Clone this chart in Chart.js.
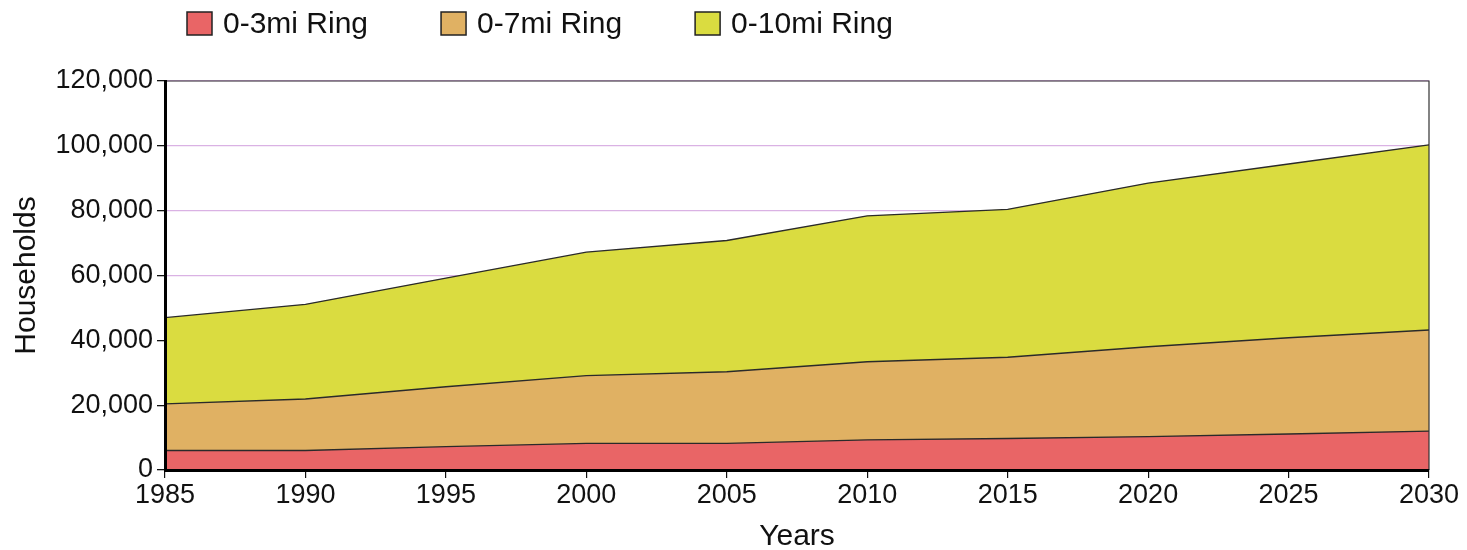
<!DOCTYPE html>
<html>
<head>
<meta charset="utf-8">
<script src="https://cdn.jsdelivr.net/npm/chart.js@4/dist/chart.umd.min.js"></script>
<style>
  html, body { margin: 0; padding: 0; background: #fff; }
  #wrap { width: 1467px; height: 550px; }
</style>
</head>
<body>
<div id="wrap"><canvas id="chart1"></canvas></div>
<script>
'use strict';

// data
var years = ['1985', '1990', '1995', '2000', '2005', '2010', '2015', '2020', '2025', '2030'];
var seriesNames = ['0-3mi Ring', '0-7mi Ring', '0-10mi Ring'];
var ring3 = [6000, 6000, 7200, 8200, 8200, 9300, 9700, 10300, 11100, 12000];
var ring7 = [20400, 21900, 25700, 29100, 30300, 33400, 34800, 38000, 40800, 43200];
var ring10 = [47000, 51100, 59200, 67200, 70800, 78400, 80400, 88500, 94400, 100300];
var yTicks = [0, 20000, 40000, 60000, 80000, 100000, 120000];

var colors = ['#e96566', '#e0b163', '#dadc40'];
var fontName = '"Liberation Sans", Arial, sans-serif';

// legend drawn by hand so it can sit left of centre like the original
var ringLegend = {
  id: 'ringLegend',
  afterDraw: function(chart){
    var ctx = chart.ctx;
    var x = 187;
    ctx.save();
    ctx.font = '30px ' + fontName;
    ctx.textBaseline = 'middle';
    ctx.textAlign = 'left';
    for (var i = 0; i < chart.data.datasets.length; i++) {
      var ds = chart.data.datasets[i];
      ctx.fillStyle = ds.backgroundColor;
      ctx.fillRect(x, 12, 25, 23);
      ctx.lineWidth = 1.5;
      ctx.strokeStyle = '#222';
      ctx.strokeRect(x, 12, 25, 23);
      ctx.fillStyle = '#111';
      ctx.fillText(ds.label, x + 36, 25);
      x += 36 + ctx.measureText(ds.label).width + 73;
    }
    ctx.restore();
  }
};

// thin frame on the top and right of the plot
var plotFrame = {
  id: 'plotFrame',
  afterDatasetsDraw: function(chart){
    var a = chart.chartArea;
    var ctx = chart.ctx;
    ctx.save();
    ctx.strokeStyle = '#333';
    ctx.lineWidth = 1.2;
    ctx.beginPath();
    ctx.moveTo(a.left, a.top);
    ctx.lineTo(a.right, a.top);
    ctx.lineTo(a.right, a.bottom);
    ctx.stroke();
    ctx.restore();
  }
};

function makeSet(i, values){
  return {
    label: seriesNames[i],
    data: values,
    backgroundColor: colors[i],
    borderColor: '#2a2a2a',
    borderWidth: 1.4,
    fill: 'origin',
    pointRadius: 0,
    pointHoverRadius: 0,
    tension: 0
  };
}

new Chart(document.getElementById('chart1').getContext('2d'), {
  type: 'line',
  data: {
    labels: years,
    datasets: [makeSet(0, ring3), makeSet(1, ring7), makeSet(2, ring10)]
  },
  options: {
    responsive: true,
    maintainAspectRatio: false,
    animation: false,
    layout: { padding: { top: 81, right: 38, left: 0, bottom: 0 } },
    plugins: {
      legend: { display: false },
      tooltip: { enabled: false }
    },
    scales: {
      x: {
        type: 'category',
        offset: false,
        grid: { drawOnChartArea: false, drawTicks: true, tickLength: 8, tickColor: '#111', lineWidth: 1.2 },
        border: { display: true, color: '#000', width: 3, z: 1 },
        ticks: { color: '#111', font: { family: fontName, size: 27 }, padding: 1, maxRotation: 0, autoSkip: false },
        title: { display: true, text: 'Years', color: '#111', font: { family: fontName, size: 30, lineHeight: 1 }, padding: { top: 0, bottom: -2 } },
        afterFit: function(scale){ scale.height = 80; }
      },
      y: {
        min: 0,
        max: 120000,
        afterBuildTicks: function(scale){
          scale.ticks = yTicks.map(function(v){ return { value: v }; });
        },
        grid: { color: '#dab2e4', lineWidth: 1.3, drawTicks: true, tickLength: 8, tickColor: '#111' },
        border: { display: true, color: '#000', width: 3, z: 1 },
        ticks: {
          color: '#111',
          font: { family: fontName, size: 27 },
          padding: 4,
          callback: function(v){ return Number(v).toLocaleString('en-US'); }
        },
        title: { display: true, text: 'Households', color: '#111', font: { family: fontName, size: 30, lineHeight: 1.2 }, padding: { top: 9, bottom: 0 } },
        afterFit: function(scale){ scale.width = 165; }
      }
    }
  },
  plugins: [ringLegend, plotFrame]
});
</script>
</body>
</html>
